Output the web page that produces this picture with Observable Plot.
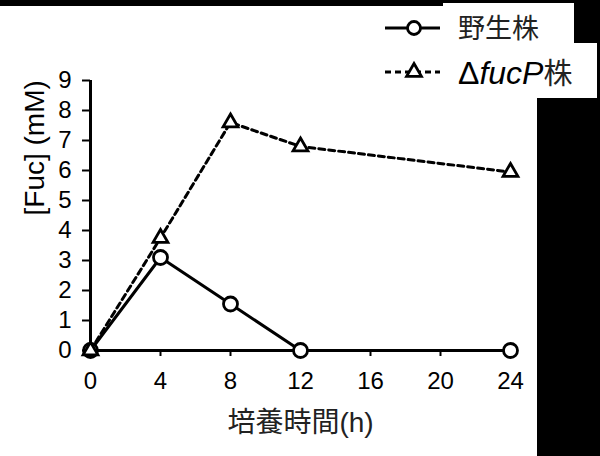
<!DOCTYPE html>
<html>
<head>
<meta charset="utf-8">
<script src="https://cdn.jsdelivr.net/npm/d3@7"></script>
<script src="https://cdn.jsdelivr.net/npm/@observablehq/plot@0.6"></script>
<style>
  html, body { margin: 0; padding: 0; background: white; }
  #wrap { position: relative; width: 600px; height: 456px; overflow: hidden; background: white; }
  .blk { position: absolute; background: black; }
  #legend { position: absolute; left: 0; top: 0; }
</style>
</head>
<body>
<div id="wrap">
  <div id="chart"></div>
  <svg id="legend" width="600" height="110"></svg>
  <div class="blk" style="left:0;top:0;width:443px;height:6px"></div>
  <div class="blk" style="left:443px;top:0;width:131px;height:3px"></div>
  <div class="blk" style="left:574px;top:0;width:26px;height:43px"></div>
  <div class="blk" style="left:597px;top:43px;width:3px;height:56px"></div>
  <div class="blk" style="left:537px;top:98px;width:63px;height:358px"></div>
</div>
<script>
const hours = [0, 4, 8, 12, 24];
const wildType = [0, 3.1, 1.55, 0, 0];
const fucP = [0, 3.75, 7.6, 6.8, 5.95];
const seriesNames = ["野生株", "ΔfucP株"];
const xTicks = [0, 4, 8, 12, 16, 20, 24];
const yTicks = [0, 1, 2, 3, 4, 5, 6, 7, 8, 9];
const xLabel = "培養時間(h)";
const yLabel = "[Fuc] (mM)";

const wtData = hours.map((h, i) => ({h, v: wildType[i]}));
const fpData = hours.map((h, i) => ({h, v: fucP[i]}));

const font = "'Liberation Sans', Arial, 'Noto Sans CJK JP', sans-serif";

const chart = Plot.plot({
  width: 600,
  height: 456,
  marginLeft: 90,
  marginRight: 90,
  marginTop: 80,
  marginBottom: 106,
  x: {domain: [0, 24]},
  y: {domain: [0, 9]},
  style: {fontFamily: font, fontSize: "24px", color: "black", background: "transparent", overflow: "visible"},
  marks: [
    Plot.axisX({ticks: xTicks, tickSize: 6, tickPadding: 15, strokeWidth: 2, label: null, fontSize: 24}),
    Plot.axisY({ticks: yTicks, tickSize: 8, tickPadding: 11, strokeWidth: 2, label: null, fontSize: 24}),
    Plot.ruleY([0], {strokeWidth: 3}),
    Plot.ruleX([0], {strokeWidth: 3}),
    Plot.line(wtData, {x: "h", y: "v", stroke: "black", strokeWidth: 3}),
    Plot.line(fpData, {x: "h", y: "v", stroke: "black", strokeWidth: 3, strokeDasharray: "6,4"}),
    Plot.dot(wtData, {x: "h", y: "v", r: 7, fill: "white", stroke: "black", strokeWidth: 2.8}),
    Plot.dot(fpData, {x: "h", y: "v", symbol: "triangle", r: 5.5, fill: "white", stroke: "black", strokeWidth: 2.8}),
    Plot.text([xLabel], {frameAnchor: "bottom", dy: 73, lineAnchor: "middle", fontSize: 28, fill: "#222", text: d => d}),
    Plot.text([yLabel], {frameAnchor: "left", dx: -55, rotate: -90, lineAnchor: "middle", fontSize: 28, fill: "black", text: d => d})
  ]
});
document.getElementById("chart").appendChild(chart);

// Legend
const lg = d3.select("#legend");
const rows = [{y: 28, dash: null, sym: "circle"}, {y: 72, dash: "6,4", sym: "triangle"}];
rows.forEach((r, i) => {
  lg.append("line").attr("x1", 385).attr("x2", 440).attr("y1", r.y).attr("y2", r.y)
    .attr("stroke", "black").attr("stroke-width", 3).attr("stroke-dasharray", r.dash);
  const sym = d3.symbol().type(r.sym === "circle" ? d3.symbolCircle : d3.symbolTriangle)
    .size(r.sym === "circle" ? Math.PI * 6.5 * 6.5 : Math.PI * 5.5 * 5.5);
  lg.append("path").attr("d", sym()).attr("transform", `translate(414,${r.y})`)
    .attr("fill", "white").attr("stroke", "black").attr("stroke-width", 2.8);
  const t = lg.append("text").attr("x", 458).attr("y", r.y).attr("dy", "0.36em")
    .attr("font-family", font);
  if (i === 0) {
    t.attr("fill", "#222").attr("font-size", 27).text(seriesNames[0]);
  } else {
    t.attr("font-size", 32);
    t.append("tspan").text("Δ");
    t.append("tspan").attr("font-style", "italic").text("fucP");
    t.append("tspan").attr("fill", "#222").attr("font-size", 29).text("株");
  }
});
</script>
</body>
</html>
